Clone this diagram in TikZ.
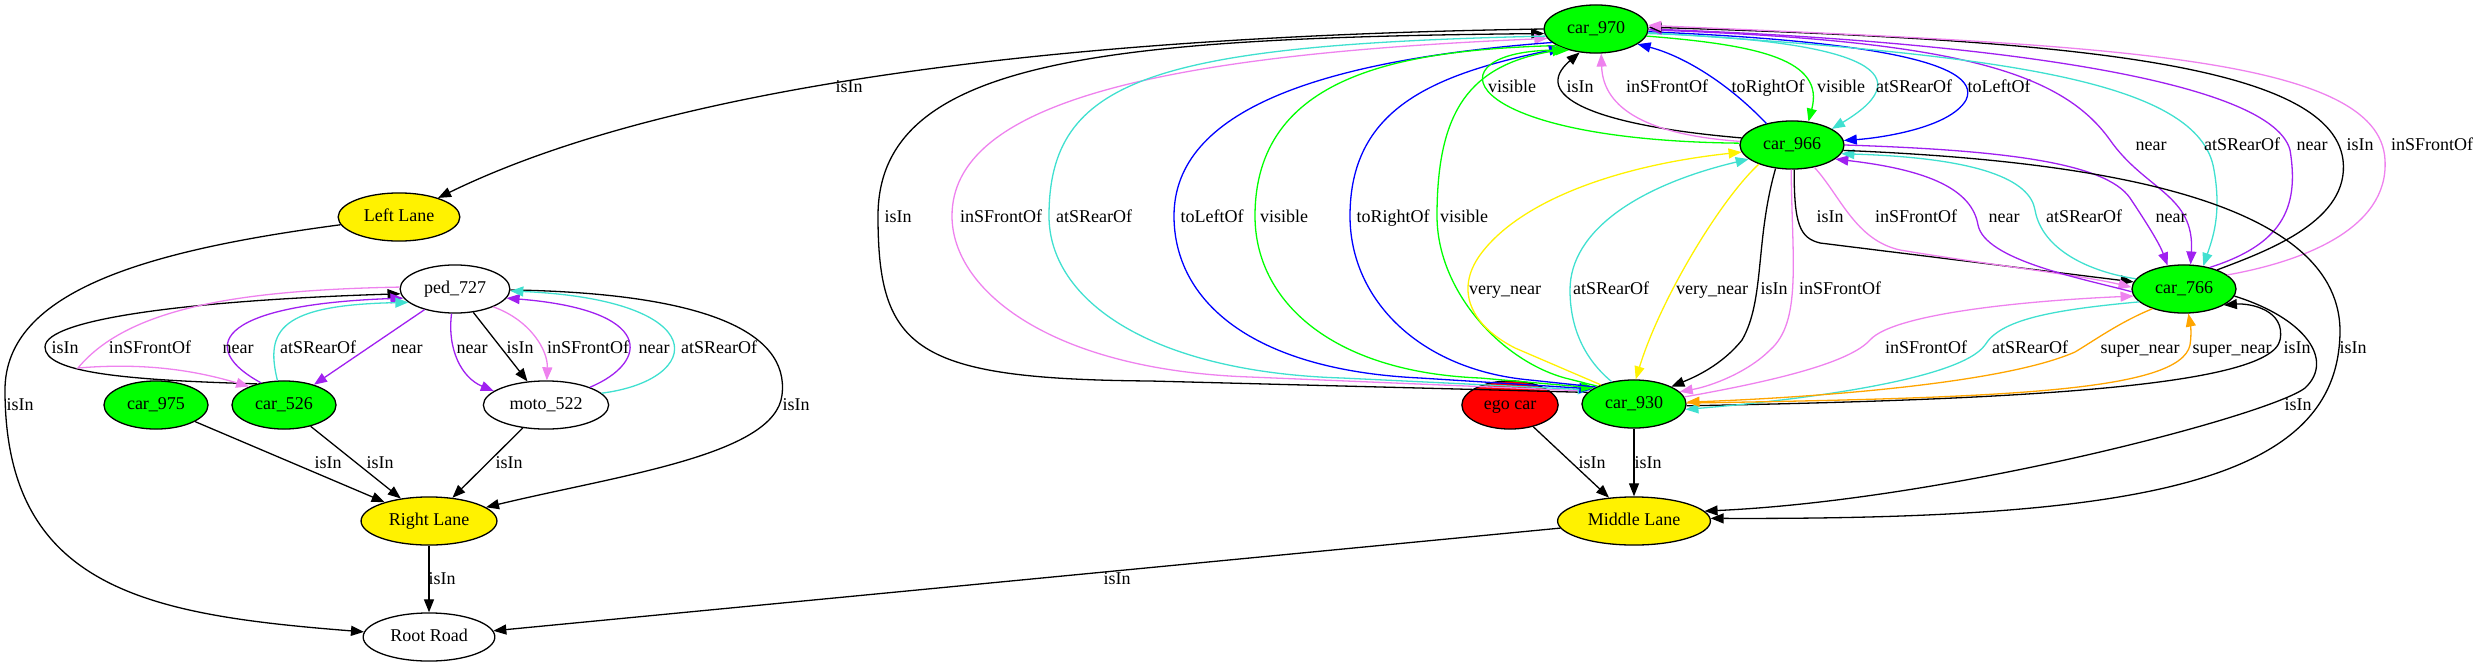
\documentclass[tikz,border=0pt]{standalone}
\usepackage{fontspec}
\setmainfont{Liberation Serif}
\usetikzlibrary{arrows.meta,shapes.geometric}
\definecolor{gvviolet}{HTML}{EE82EE}
\definecolor{gvpurple}{HTML}{A020F0}
\definecolor{gvturq}{HTML}{40E0D0}
\definecolor{gvorange}{HTML}{FFA500}
\begin{document}
\begin{tikzpicture}[x=1pt,y=-1pt,>={Triangle[length=13pt,width=10pt]}]
  \tikzstyle{every node}+=[font=\fontsize{18}{20}\selectfont]
  \tikzstyle{obj}=[ellipse,draw=black,line width=1.3pt,inner xsep=7.8pt,inner ysep=9pt,text height=12pt,text depth=4pt]
  \tikzstyle{car}=[obj,fill=green]
  \tikzstyle{lane}=[obj,fill=yellow]
  \tikzstyle{egocar}=[obj,fill=red]
  \tikzstyle{other}=[obj,fill=white]
  \tikzstyle{lbl}=[inner sep=0pt,text height=12pt,text depth=0pt]
  \tikzstyle{edge}=[line width=1.3pt]
  \tikzstyle{eisin}=[edge,draw=black]
  \tikzstyle{enear}=[edge,draw=gvpurple]
  \tikzstyle{esrear}=[edge,draw=gvturq]
  \tikzstyle{esfront}=[edge,draw=gvviolet]
  \tikzstyle{eleft}=[edge,draw=blue]
  \tikzstyle{eright}=[edge,draw=blue]
  \tikzstyle{evis}=[edge,draw=green]
  \tikzstyle{evnear}=[edge,draw=yellow]
  \tikzstyle{esnear}=[edge,draw=gvorange]
  \useasboundingbox (0,0) rectangle (2479,667);

  \node[car] (c970) at (1596,29) {car\_970};
  \node[car] (c966) at (1792,145) {car\_966};
  \node[car] (c766) at (2184,289) {car\_766};
  \node[car] (c930) at (1634,404) {car\_930};
  \node[egocar] (ego) at (1510,405) {ego car};
  \node[lane] (ml) at (1634,521) {Middle Lane};
  \node[lane] (ll) at (399,217) {Left Lane};
  \node[other] (ped) at (455,289) {ped\_727};
  \node[car] (c975) at (156,405) {car\_975};
  \node[car] (c526) at (284,405) {car\_526};
  \node[other] (moto) at (546,405) {moto\_522};
  \node[lane] (rl) at (429,521) {Right Lane};
  \node[other] (rr) at (429,637) {Root Road};

  % left part
  \draw[eisin,->] (c970.180) .. controls (1150,35) and (700,70) .. (ll) node[lbl] (t01) at (849,86) {isIn};
  \draw[eisin,->] (ll) .. controls (150,250) and (5,290) .. (5,390) .. controls (5,590) and (150,615) .. (rr) node[lbl] (t02) at (20,404) {isIn};
  \draw[eisin,->] (ped) .. controls (700,293) and (790,330) .. (782,395) .. controls (775,455) and (620,475) .. (rl) node[lbl] (t03) at (796,404) {isIn};
  \draw[eisin,->] (c526.142) .. controls (120,380) and (45,372) .. (45,347) .. controls (45,318) and (200,300) .. (ped.185) node[lbl] (t04) at (65,347) {isIn};
  \draw[esfront,->] (ped.178) .. controls (250,290) and (130,305) .. (78,368) .. controls (150,362) and (200,372) .. (c526.152) node[lbl] (t05) at (150,347) {inSFrontOf};
  \draw[enear,->] (c526.136) .. controls (200,350) and (210,305) .. (ped.190) node[lbl] (t06) at (238,347) {near};
  \draw[esrear,->] (c526.105) .. controls (265,330) and (280,305) .. (ped.196) node[lbl] (t07) at (318,347) {atSRearOf};
  \draw[enear,->] (ped) -- (c526) node[lbl] (t08) at (407,347) {near};
  \draw[enear,->] (ped.262) .. controls (447,350) and (462,378) .. (moto.165) node[lbl] (t09) at (472,347) {near};
  \draw[eisin,->] (ped) -- (moto) node[lbl] (t10) at (520,347) {isIn};
  \draw[esfront,->] (ped.-25) .. controls (530,320) and (548,350) .. (moto.88) node[lbl] (t11) at (588,347) {inSFrontOf};
  \draw[enear,->] (moto.22) .. controls (650,362) and (655,310) .. (ped.-10) node[lbl] (t12) at (654,347) {near};
  \draw[esrear,->] (moto.12) .. controls (705,380) and (715,300) .. (ped.-2) node[lbl] (t13) at (719,347) {atSRearOf};
  \draw[eisin,->] (c975) -- (rl) node[lbl] (t14) at (328,462) {isIn};
  \draw[eisin,->] (c526) -- (rl) node[lbl] (t15) at (380,462) {isIn};
  \draw[eisin,->] (moto) -- (rl) node[lbl] (t16) at (509,462) {isIn};
  \draw[eisin,->] (rl) -- (rr) node[lbl] (t17) at (442,578) {isIn};
  \draw[eisin,->] (ml) -- (rr) node[lbl] (t18) at (1117,578) {isIn};

  % right part
  \draw[eisin,->] (ego) -- (ml) node[lbl] (t19) at (1592,462) {isIn};
  \draw[eisin,->] (c930) -- (ml) node[lbl] (t20) at (1648,462) {isIn};
  \draw[eisin,<-] (c970.185) .. controls (1100,38) and (878,60) .. (878,216) .. controls (878,350) and (915,379) .. (1150,381) -- (c930.166) node[lbl] (t21) at (898,216) {isIn};
  \draw[esfront,<-] (c970.191) .. controls (1150,55) and (952,105) .. (952,216) .. controls (952,290) and (1050,370) .. (1250,377) -- (c930.164) node[lbl] (t22) at (1001,216) {inSFrontOf};
  \draw[esrear,->] (c970.188) .. controls (1150,45) and (1049,80) .. (1049,216) .. controls (1049,300) and (1150,372) .. (1342,378) -- (c930.162) node[lbl] (t23) at (1094,216) {atSRearOf};
  \draw[eleft,->] (c970.197) .. controls (1320,60) and (1174,110) .. (1174,216) .. controls (1174,300) and (1250,370) .. (1420,378) -- (c930.160) node[lbl] (t24) at (1212,216) {toLeftOf};
  \draw[evis,->] (c970.203) .. controls (1400,50) and (1255,75) .. (1255,216) .. controls (1255,300) and (1330,372) .. (1480,378) -- (c930.158) node[lbl] (t25) at (1284,216) {visible};
  \draw[eright,<-] (c970.209) .. controls (1430,75) and (1350,110) .. (1350,216) .. controls (1350,300) and (1420,370) .. (1530,380) -- (c930.156) node[lbl] (t26) at (1393,216) {toRightOf};
  \draw[evis,<-] (c970.213) .. controls (1470,65) and (1437,110) .. (1437,216) .. controls (1437,290) and (1500,360) .. (1565,378) -- (c930.154) node[lbl] (t27) at (1464,216) {visible};

  \draw[evis,->] (c966.178) .. controls (1450,140) and (1430,50) .. (c970.218) node[lbl] (t28) at (1512,86) {visible};
  \draw[eisin,->] (c966.172) .. controls (1590,125) and (1530,95) .. (c970.235) node[lbl] (t29) at (1580,86) {isIn};
  \draw[esfront,->] (c966.176) .. controls (1650,135) and (1603,110) .. (c970.282) node[lbl] (t30) at (1667,86) {inSFrontOf};
  \draw[eright,->] (c966.140) .. controls (1725,80) and (1680,55) .. (c970.-20) node[lbl] (t31) at (1768,86) {toRightOf};
  \draw[evis,->] (c970.-8) .. controls (1760,45) and (1825,60) .. (c966.55) node[lbl] (t32) at (1841,86) {visible};
  \draw[esrear,->] (c970.-5) .. controls (1850,40) and (1930,70) .. (c966.22) node[lbl] (t33) at (1914,86) {atSRearOf};
  \draw[eleft,->] (c970.-3) .. controls (1850,40) and (1985,60) .. (1966,100) .. controls (1950,128) and (1880,138) .. (c966.5) node[lbl] (t34) at (1999,86) {toLeftOf};

  \draw[enear,->] (c970.-1) .. controls (1950,40) and (2060,70) .. (2110,140) .. controls (2145,190) and (2195,195) .. (c766.75) node[lbl] (t35) at (2151,144) {near};
  \draw[enear,->] (c966.0) .. controls (2000,150) and (2105,162) .. (2130,198) .. controls (2150,228) and (2160,245) .. (c766.125) node[lbl] (t36) at (2171,216) {near};
  \draw[esrear,->] (c970.-4) .. controls (2000,55) and (2200,80) .. (2214,170) .. controls (2222,215) and (2212,240) .. (c766.50) node[lbl] (t37) at (2242,144) {atSRearOf};
  \draw[enear,<-] (c970.0) .. controls (1950,40) and (2270,75) .. (2290,150) .. controls (2300,210) and (2280,245) .. (c766.40) node[lbl] (t38) at (2312,144) {near};
  \draw[eisin,<-] (c970.2) .. controls (2050,40) and (2330,60) .. (2343,160) .. controls (2350,220) and (2270,250) .. (c766.30) node[lbl] (t39) at (2360,144) {isIn};
  \draw[esfront,<-] (c970.4) .. controls (2100,45) and (2380,55) .. (2385,160) .. controls (2389,230) and (2300,262) .. (c766.18) node[lbl] (t40) at (2432,144) {inSFrontOf};

  \draw[eisin,->] (c966.-85) .. controls (1794,225) and (1800,238) .. (1820,243) -- (c766.172) node[lbl] (t41) at (1830,216) {isIn};
  \draw[esfront,->] (c966.-45) .. controls (1840,195) and (1855,240) .. (1900,250) .. controls (1990,265) and (2080,275) .. (c766.178) node[lbl] (t42) at (1916,216) {inSFrontOf};
  \draw[enear,<-] (c966.-18) .. controls (1930,170) and (1972,190) .. (1978,225) .. controls (1985,260) and (2080,278) .. (c766.183) node[lbl] (t43) at (2004,216) {near};
  \draw[esrear,<-] (c966.-10) .. controls (1980,158) and (2030,180) .. (2035,210) .. controls (2042,250) and (2090,272) .. (c766.168) node[lbl] (t44) at (2084,216) {atSRearOf};

  \draw[eisin,->] (c966.-6) .. controls (2080,160) and (2338,195) .. (2340,330) .. controls (2340,480) and (2150,520) .. (ml.2) node[lbl] (t45) at (2353,347) {isIn};
  \draw[eisin,->] (c766.-8) .. controls (2305,318) and (2335,360) .. (2305,388) .. controls (2270,415) and (1950,500) .. (ml.8) node[lbl] (t46) at (2298,404) {isIn};
  \draw[eisin,->] (c930.-2) .. controls (2000,400) and (2270,388) .. (2280,340) .. controls (2286,310) and (2250,303) .. (c766.-22) node[lbl] (t47) at (2297,347) {isIn};
  \draw[esfront,->] (c930.8) .. controls (1780,380) and (1850,362) .. (1870,340) .. controls (1895,312) and (2040,300) .. (c766.188) node[lbl] (t48) at (1926,347) {inSFrontOf};
  \draw[esrear,->] (c766.196) .. controls (2050,310) and (2000,320) .. (1985,345) .. controls (1960,380) and (1800,400) .. (c930.-6) node[lbl] (t49) at (2030,347) {atSRearOf};
  \draw[esnear,->] (c766.212) .. controls (2120,322) and (2095,340) .. (2075,352) .. controls (2000,385) and (1800,398) .. (c930.2) node[lbl] (t50) at (2140,347) {super\_near};
  \draw[esnear,->] (c930.1) .. controls (2000,398) and (2180,392) .. (2190,345) .. controls (2192,332) and (2190,322) .. (c766.-80) node[lbl] (t51) at (2232,347) {super\_near};

  \draw[evnear,<-] (c966.188) .. controls (1620,165) and (1520,200) .. (1480,255) .. controls (1455,290) and (1470,325) .. (1515,348) -- (c930.150) node[lbl] (t52) at (1505,288) {very\_near};
  \draw[esrear,<-] (c966.198) .. controls (1640,185) and (1570,230) .. (1570,290) .. controls (1570,340) and (1595,368) .. (c930.135) node[lbl] (t53) at (1611,288) {atSRearOf};
  \draw[evnear,->] (c966.-150) .. controls (1720,200) and (1660,300) .. (c930.86) node[lbl] (t54) at (1712,288) {very\_near};
  \draw[eisin,->] (c966.-125) .. controls (1755,240) and (1765,300) .. (1742,340) .. controls (1722,365) and (1695,377) .. (c930.25) node[lbl] (t55) at (1774,288) {isIn};
  \draw[esfront,->] (c966.-92) .. controls (1792,260) and (1802,322) .. (1770,350) .. controls (1748,372) and (1712,386) .. (c930.15) node[lbl] (t56) at (1840,288) {inSFrontOf};
\end{tikzpicture}
\end{document}
